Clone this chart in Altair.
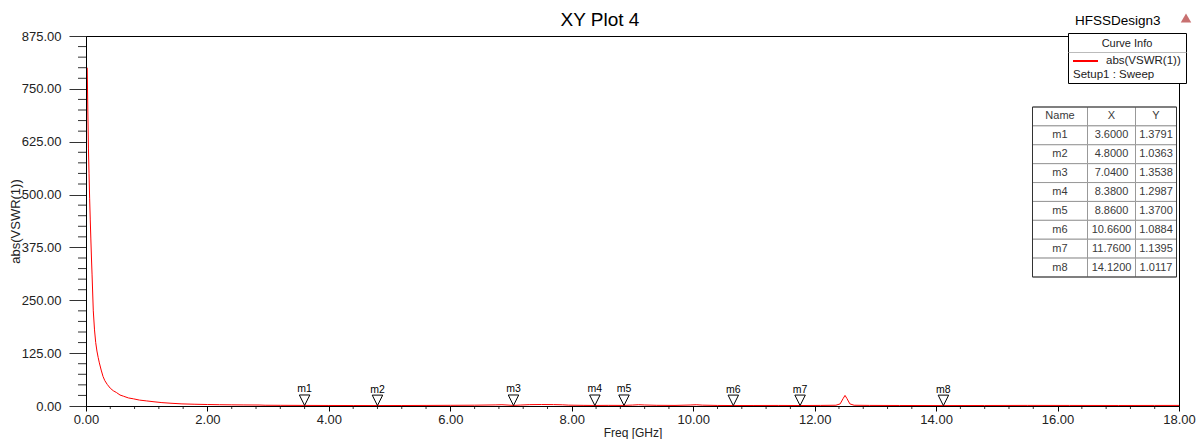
import altair as alt
import pandas as pd

# ---------------- data ----------------
freq = [0.02, 0.03, 0.04, 0.05, 0.06, 0.07, 0.08, 0.09, 0.10, 0.12, 0.14, 0.16, 0.18,
        0.20, 0.22, 0.25, 0.28, 0.31, 0.35, 0.40, 0.45, 0.50, 0.56, 0.62, 0.70, 0.78, 0.88, 1.00,
        1.12, 1.25, 1.40, 1.58, 1.78, 2.00, 2.20, 2.40, 2.60, 2.85, 2.95, 3.20, 3.60, 4.00, 4.40,
        4.80, 5.20, 5.60, 6.00, 6.40, 6.75, 6.85, 6.95, 7.04, 7.15, 7.30, 7.50, 7.70, 7.85, 7.95,
        8.20, 8.38, 8.60, 8.86, 9.00, 9.10, 9.20, 9.40, 9.70, 9.95, 10.05, 10.15, 10.40, 10.66,
        11.00, 11.40, 11.76, 12.10, 12.35, 12.42, 12.47, 12.50, 12.53, 12.58, 12.65, 12.90, 13.40,
        14.12, 14.80, 15.50, 16.20, 17.00, 17.60, 18.00]
vswr = [800, 700, 610, 550, 490, 440, 395, 350, 310, 225, 180, 150, 130,
        115, 102, 85, 70, 60, 51, 42, 36, 32, 26, 23, 19, 17, 14, 12,
        10, 8, 6.5, 5, 4.2, 3.5, 3.0, 2.7, 2.5, 2.3, 1.8, 1.6, 1.38, 1.25, 1.12,
        1.04, 1.15, 1.35, 1.6, 1.9, 2.6, 3.0, 2.2, 1.35, 2.2, 3.2, 3.5, 3.3, 2.8, 2.0,
        1.5, 1.30, 1.5, 1.37, 2.2, 3.0, 2.4, 1.6, 1.4, 2.3, 3.0, 2.0, 1.3, 1.09,
        1.2, 1.3, 1.14, 1.4, 1.8, 5, 18, 25, 18, 5, 1.8, 1.4, 1.2,
        1.01, 1.2, 1.4, 1.3, 1.2, 1.3, 1.4]

marker_names = ["m1", "m2", "m3", "m4", "m5", "m6", "m7", "m8"]
marker_x = [3.6, 4.8, 7.04, 8.38, 8.86, 10.66, 11.76, 14.12]
marker_y = [1.3791, 1.0363, 1.3538, 1.2987, 1.3700, 1.0884, 1.1395, 1.0117]

table_header = ["Name", "X", "Y"]

y_ticks = [0, 125, 250, 375, 500, 625, 750, 875]
x_ticks = [0, 2, 4, 6, 8, 10, 12, 14, 16, 18]
y_minor = [v for v in range(25, 875, 25) if v % 125 != 0]
x_minor = [round(i * 0.4, 1) for i in range(46) if i % 5 != 0]

title_text = "XY Plot 4"
design_text = "HFSSDesign3"
legend_title = "Curve Info"
legend_curve = "abs(VSWR(1))"
legend_setup = "Setup1 : Sweep"

# ---------------- layout ----------------
W, H = 1093, 370
FONT = "Liberation Sans"

xs = alt.Scale(domain=[0, 18], nice=False, zero=False)
ys = alt.Scale(domain=[0, 875], nice=False, zero=False)

curve_df = pd.DataFrame({"freq": freq, "vswr": vswr})
mk_df = pd.DataFrame({"name": marker_names, "x": marker_x, "y": marker_y})

tbl_df = pd.DataFrame({
    "r": list(range(len(marker_names) + 1)),
    "c0": [table_header[0]] + marker_names,
    "c1": [table_header[1]] + [f"{v:.4f}" for v in marker_x],
    "c2": [table_header[2]] + [f"{v:.4f}" for v in marker_y],
})
one = pd.DataFrame({"k": [0]})

line = alt.Chart(curve_df).mark_line(color="#ff0000", strokeWidth=1, clip=True).encode(
    x=alt.X("freq:Q", scale=xs, axis=alt.Axis(
        values=x_ticks, format=".2f", tickSize=5, tickColor="black", domainColor="black",
        labelFont=FONT, labelFontSize=13, labelColor="#222", labelPadding=2,
        labelFlush=False, labelOverlap=False, grid=False,
        title="Freq [GHz]", titleFont=FONT, titleFontSize=12, titleFontWeight="normal",
        titleColor="#222", titleY=26, titleBaseline="middle", zindex=1)),
    y=alt.Y("vswr:Q", scale=ys, axis=alt.Axis(
        values=y_ticks, format=".2f", tickSize=17, tickColor="#333", domainColor="black",
        labelFont=FONT, labelFontSize=13, labelColor="#222", labelPadding=8,
        labelOverlap=False, labelFlush=False, grid=False,
        title="abs(VSWR(1))", titleFont=FONT, titleFontSize=13, titleFontWeight="normal",
        titleColor="#222", titleX=-70.5, titleY=185, titleAlign="center",
        titleBaseline="middle", titleAngle=270, zindex=1)),
)

ymin = alt.Chart(pd.DataFrame({"v": y_minor})).mark_rule(color="#333", strokeWidth=1).encode(
    y=alt.Y("v:Q", scale=ys, axis=None), x=alt.value(-8), x2=alt.value(0))
xmin = alt.Chart(pd.DataFrame({"v": x_minor})).mark_rule(color="#333", strokeWidth=1).encode(
    x=alt.X("v:Q", scale=xs, axis=None), y=alt.value(H), y2=alt.value(H + 3))

tri = alt.Chart(mk_df).mark_point(
    shape="M-1,-1L1,-1L0,1Z", size=110, filled=False, color="black", strokeWidth=1,
    opacity=1, yOffset=-5.2).encode(
    x=alt.X("x:Q", scale=xs, axis=None), y=alt.Y("y:Q", scale=ys, axis=None))
tri_lab = alt.Chart(mk_df).mark_text(font=FONT, fontSize=10.5, color="black", dy=-16).encode(
    x=alt.X("x:Q", scale=xs, axis=None), y=alt.Y("y:Q", scale=ys, axis=None), text="name:N")

# title + design name + logo
title = alt.Chart(one).mark_text(font=FONT, fontSize=19, color="black", align="center",
                                 baseline="middle").encode(
    x=alt.value(514), y=alt.value(-16), text=alt.value(title_text))
design = alt.Chart(one).mark_text(font=FONT, fontSize=13.5, color="black", align="left",
                                  baseline="middle").encode(
    x=alt.value(989), y=alt.value(-15.5), text=alt.value(design_text))
logo = alt.Chart(one).mark_point(shape="triangle-up", size=110, filled=True, color="#c87070",
                                 opacity=1).encode(x=alt.value(1100), y=alt.value(-18))

# legend box
lg_box = alt.Chart(one).mark_rect(fill="white", stroke="black", strokeWidth=1).encode(
    x=alt.value(982.5), x2=alt.value(1100.5), y=alt.value(-2.5), y2=alt.value(47.5))
lg_sep = alt.Chart(one).mark_rule(color="#bbbbbb", strokeWidth=1).encode(
    x=alt.value(982.5), x2=alt.value(1100.5), y=alt.value(16.5))
lg_title = alt.Chart(one).mark_text(font=FONT, fontSize=11, color="#222", align="center",
                                    baseline="middle").encode(
    x=alt.value(1041), y=alt.value(7.5), text=alt.value(legend_title))
lg_line = alt.Chart(one).mark_rule(color="#ff0000", strokeWidth=2).encode(
    x=alt.value(987), x2=alt.value(1012), y=alt.value(25))
lg_curve = alt.Chart(one).mark_text(font=FONT, fontSize=11.5, color="#222", align="left",
                                    baseline="middle").encode(
    x=alt.value(1020), y=alt.value(25), text=alt.value(legend_curve))
lg_setup = alt.Chart(one).mark_text(font=FONT, fontSize=11.5, color="#222", align="left",
                                    baseline="middle").encode(
    x=alt.value(987), y=alt.value(39), text=alt.value(legend_setup))

# marker table
tys = alt.Scale(domain=[0, 9], range=[71, 241], nice=False, zero=False)
tbl = alt.Chart(tbl_df).transform_calculate(r2="datum.r + 1", rc="datum.r + 0.5")
col_edges = [946.5, 1001.5, 1049.5, 1090.5]
col_centers = [974, 1025.5, 1070]
cells = []
for i in range(3):
    cells.append(tbl.mark_rect(fill="white", stroke="#999999", strokeWidth=1).encode(
        x=alt.value(col_edges[i]), x2=alt.value(col_edges[i + 1]),
        y=alt.Y("r:Q", scale=tys, axis=None), y2="r2:Q"))
texts = []
for i in range(3):
    texts.append(tbl.mark_text(font=FONT, fontSize=11, color="#3a3a3a", align="center",
                               baseline="middle").encode(
        x=alt.value(col_centers[i]), y=alt.Y("rc:Q", scale=tys, axis=None),
        text=f"c{i}:N"))
tbl_border = alt.Chart(one).mark_rect(fill=None, stroke="#333333", strokeWidth=1).encode(
    x=alt.value(col_edges[0]), x2=alt.value(col_edges[3]), y=alt.value(71), y2=alt.value(241))

chart = alt.layer(
    line, ymin, xmin, tri, tri_lab, title, design, logo,
    lg_box, lg_sep, lg_title, lg_line, lg_curve, lg_setup,
    *cells, *texts, tbl_border,
).resolve_scale(y="independent").resolve_axis(x="independent").properties(
    width=W, height=H,
    padding={"left": 86, "top": 36, "right": 22, "bottom": 33},
    autosize=alt.AutoSizeParams(type="none"),
    background="white",
).configure_view(stroke="black", strokeWidth=1)

chart.save("out.html", embed_options={"renderer": "svg", "actions": False})
